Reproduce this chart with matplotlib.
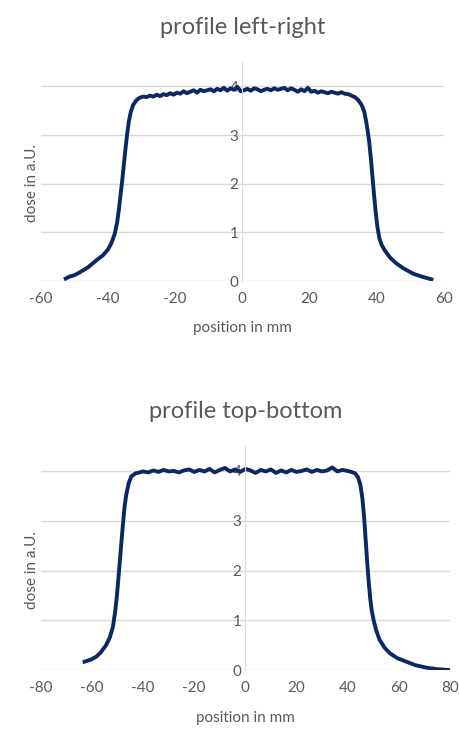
# dose profiles, left-right and top-bottom
import matplotlib.pyplot as plt

plt.rcParams['font.family'] = ['Lato', 'DejaVu Sans']
plt.rcParams['axes.unicode_minus'] = False  # plain hyphen like the original

# profile left-right (position mm, dose a.U.)
lr_pos = [-52.6, -51.5, -50.0, -48.4, -46.0, -43.4, -41.5, -40.0, -39.0, -38.0,
          -37.3, -36.8, -36.3, -35.8, -35.3, -34.8, -34.3, -33.8, -33.2, -32.5,
          -31.5, -30.5, -29.5, -28.5, -27.5, -26.5, -25.5, -24.5, -23.5, -22.5,
          -21.5, -20.5, -19.5, -18.5, -17.5, -16.5, -15.5, -14.5, -13.5, -12.5,
          -11.5, -10.5, -9.5, -8.5, -7.5, -6.5, -5.5, -4.5, -3.5, -2.5,
          -1.5, -0.5, 0.5, 1.5, 2.5, 3.5, 4.5, 5.5, 6.5, 7.5,
          8.5, 9.5, 10.5, 11.5, 12.5, 13.5, 14.5, 15.5, 16.5, 17.5,
          18.5, 19.5, 20.5, 21.5, 22.5, 23.5, 24.5, 25.5, 26.5, 27.5,
          28.5, 29.5, 30.5, 31.5, 32.5, 33.5, 34.5, 35.5, 36.3, 37.0,
          37.7, 38.3, 38.8, 39.2, 39.7, 40.2, 40.8, 41.5, 42.4, 44.0,
          45.9, 48.0, 50.9, 53.5, 56.3]
lr_dose = [0.05, 0.09, 0.12, 0.18, 0.28, 0.43, 0.53, 0.65, 0.78, 0.97,
           1.20, 1.45, 1.75, 2.05, 2.38, 2.72, 3.02, 3.28, 3.48, 3.62,
           3.72, 3.77, 3.79, 3.78, 3.81, 3.79, 3.83, 3.80, 3.84, 3.82,
           3.86, 3.83, 3.87, 3.85, 3.90, 3.86, 3.89, 3.92, 3.87, 3.93,
           3.90, 3.92, 3.94, 3.90, 3.95, 3.92, 3.97, 3.91, 3.96, 3.93,
           3.99, 3.90, 3.92, 3.95, 3.91, 3.96, 3.94, 3.90, 3.93, 3.95,
           3.92, 3.96, 3.93, 3.95, 3.97, 3.92, 3.96, 3.93, 3.89, 3.94,
           3.90, 3.97, 3.89, 3.91, 3.87, 3.90, 3.88, 3.86, 3.89, 3.87,
           3.85, 3.88, 3.85, 3.84, 3.81, 3.78, 3.72, 3.62, 3.48, 3.23,
           2.90, 2.50, 2.10, 1.78, 1.42, 1.12, 0.88, 0.74, 0.63, 0.48,
           0.36, 0.26, 0.15, 0.09, 0.035]

# profile top-bottom
tb_pos = [-62.9, -60.5, -58.3, -56.5, -54.5, -53.0, -51.8, -50.9, -50.2, -49.6,
          -49.0, -48.4, -47.8, -47.2, -46.6, -45.6, -44.6, -43.0, -41.4, -40.0,
          -38.0, -36.0, -34.0, -32.0, -30.0, -28.0, -26.0, -24.0, -22.0, -20.0,
          -18.0, -16.0, -14.0, -12.0, -10.0, -8.0, -6.0, -4.0, -2.0, 0.0,
          2.0, 4.0, 6.0, 8.0, 10.0, 12.0, 14.0, 16.0, 18.0, 20.0,
          22.0, 24.0, 26.0, 28.0, 30.0, 32.0, 34.0, 36.0, 38.0, 40.0,
          41.5, 43.0, 44.1, 45.0, 45.8, 46.5, 47.1, 47.7, 48.3, 48.9,
          49.5, 50.2, 51.2, 52.5, 54.5, 56.5, 59.5, 63.0, 66.5, 70.8,
          75.0, 80.0]
tb_dose = [0.17, 0.21, 0.27, 0.36, 0.50, 0.66, 0.87, 1.18, 1.52, 1.88,
           2.25, 2.62, 2.98, 3.30, 3.52, 3.76, 3.89, 3.95, 3.97, 3.99,
           3.97, 4.01, 3.98, 4.02, 3.99, 4.00, 3.97, 4.01, 4.03, 3.98,
           4.02, 3.99, 4.04, 3.97, 4.02, 4.06, 3.99, 4.03, 3.98, 4.04,
           4.01, 3.96, 4.02, 3.99, 4.03, 3.96, 4.01, 3.97, 4.02, 3.98,
           4.00, 4.03, 3.98, 4.02, 3.99, 4.01, 4.07, 3.99, 4.02, 4.00,
           3.98, 3.95, 3.87, 3.72, 3.45, 3.05, 2.60, 2.15, 1.75, 1.42,
           1.18, 1.00, 0.80, 0.61, 0.45, 0.34, 0.24, 0.17, 0.10, 0.05,
           0.02, 0.0]

line_col = '#0c2862'
txt_col = '#595959'
grid_col = '#d9d9d9'

fig = plt.figure(figsize=(4.59, 7.30), dpi=100)
ax1 = fig.add_axes([0.089, 0.615, 0.878, 0.300])
ax2 = fig.add_axes([0.089, 0.082, 0.891, 0.307])

panels = [
    (ax1, lr_pos, lr_dose, 'profile left-right', (-60, 60)),
    (ax2, tb_pos, tb_dose, 'profile top-bottom', (-80, 80)),
]

for ax, xs, ys, title, xlim in panels:
    ax.plot(xs, ys, color=line_col, lw=2.8, solid_joinstyle='round')
    ax.set_xlim(*xlim)
    ax.set_ylim(0, 4.5)
    ax.set_xticks(range(xlim[0], xlim[1] + 1, 20))
    ax.set_yticks([0, 1, 2, 3, 4])
    ax.grid(axis='y', color=grid_col, lw=1)
    ax.set_axisbelow(True)
    for s in ['top', 'right', 'bottom']:
        ax.spines[s].set_visible(False)
    ax.spines['left'].set_position(('data', 0))
    ax.spines['left'].set_color(grid_col)
    ax.tick_params(length=0, labelsize=11, colors=txt_col)
    ax.tick_params(axis='x', pad=8)
    ax.tick_params(axis='y', pad=3)
    ax.set_title(title, fontsize=17, color=txt_col, pad=20)
    ax.set_xlabel('position in mm', fontsize=11, color=txt_col, labelpad=11)

fig.text(0.07, 0.749, 'dose in a.U.', rotation=90, fontsize=11,
         color=txt_col, ha='center', va='center')
fig.text(0.07, 0.219, 'dose in a.U.', rotation=90, fontsize=11,
         color=txt_col, ha='center', va='center')

fig.savefig('out.png', dpi=100)
